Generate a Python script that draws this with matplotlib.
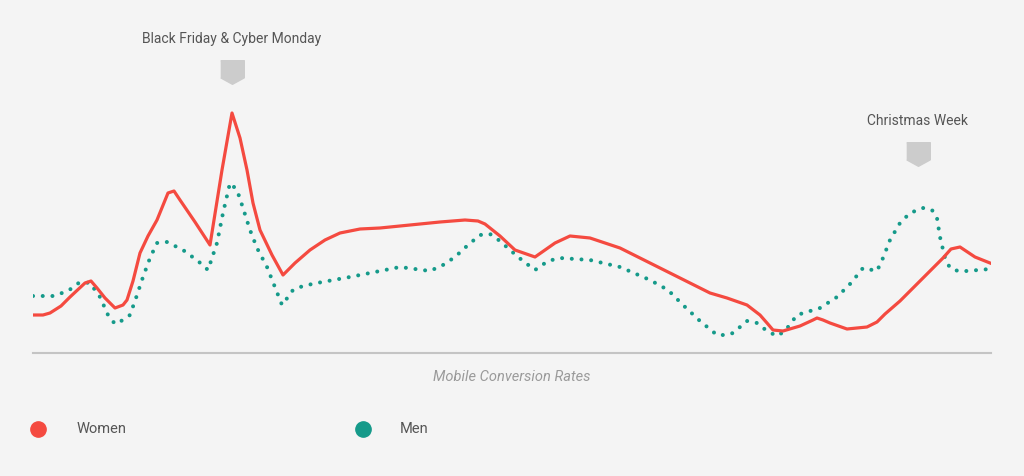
import matplotlib.pyplot as plt

plt.rcParams['font.family'] = ['Roboto', 'DejaVu Sans']

# x: position along the season (0..958), y: conversion rate
women_x = [0, 10, 17, 28, 37, 52, 58, 64, 72, 82, 90, 94, 100, 107, 115, 124, 135, 141,
           147, 162, 177, 189, 199, 207, 214, 220, 227, 239, 250, 262, 277, 292, 307,
           327, 347, 367, 407, 432, 445, 452, 467, 482, 502, 512, 522, 537, 557, 587,
           617, 647, 677, 694, 714, 727, 734, 740, 750, 767, 780, 784, 790, 797, 814,
           834, 844, 852, 867, 882, 897, 910, 918, 927, 942, 957]
women_y = [0.38, 0.38, 0.40, 0.47, 0.56, 0.70, 0.72, 0.65, 0.55, 0.45, 0.48, 0.53,
           0.72, 1.00, 1.17, 1.33, 1.60, 1.62, 1.53, 1.31, 1.08, 1.83, 2.40, 2.15, 1.83,
           1.50, 1.23, 0.98, 0.78, 0.90, 1.03, 1.13, 1.20, 1.24, 1.25, 1.27, 1.31, 1.33,
           1.32, 1.29, 1.17, 1.03, 0.96, 1.03, 1.10, 1.17, 1.15, 1.05, 0.90, 0.75, 0.60,
           0.55, 0.48, 0.38, 0.30, 0.23, 0.22, 0.27, 0.33, 0.35, 0.33, 0.30, 0.24, 0.26,
           0.31, 0.39, 0.52, 0.67, 0.82, 0.95, 1.04, 1.06, 0.96, 0.90]

men_x = [0, 20, 35, 47, 57, 67, 75, 82, 90, 97, 103, 110, 117, 124, 134, 150, 165, 175,
         184, 190, 197, 204, 210, 217, 224, 234, 249, 255, 260, 270, 284, 317, 367,
         397, 410, 422, 435, 447, 457, 467, 477, 490, 502, 515, 527, 557, 587, 617,
         635, 650, 667, 684, 694, 700, 714, 724, 734, 744, 752, 764, 787, 804, 818,
         830, 844, 850, 857, 867, 877, 890, 899, 904, 907, 912, 917, 925, 934, 957]
men_y = [0.57, 0.57, 0.62, 0.71, 0.70, 0.56, 0.38, 0.29, 0.33, 0.38, 0.55, 0.76, 0.95,
         1.10, 1.11, 1.03, 0.92, 0.83, 1.10, 1.40, 1.70, 1.63, 1.45, 1.23, 1.05, 0.86,
         0.48, 0.56, 0.63, 0.67, 0.70, 0.76, 0.86, 0.82, 0.88, 0.96, 1.08, 1.18, 1.19,
         1.12, 1.03, 0.92, 0.83, 0.92, 0.95, 0.93, 0.86, 0.73, 0.63, 0.48, 0.32, 0.18,
         0.18, 0.20, 0.32, 0.30, 0.22, 0.17, 0.22, 0.38, 0.45, 0.56, 0.70, 0.85, 0.82,
         0.95, 1.13, 1.30, 1.40, 1.45, 1.43, 1.35, 1.16, 0.95, 0.85, 0.82, 0.82, 0.84]

events = ["Black Friday & Cyber Monday", "Christmas Week"]
event_x = [199, 885]
event_y = [2.81, 1.99]

bg = '#f4f4f4'
fig = plt.figure(figsize=(10.24, 4.76), dpi=100, facecolor=bg)
ax = fig.add_axes([33 / 1024, 123 / 476, 958 / 1024, 333 / 476])
ax.set_facecolor(bg)

ax.plot(women_x, women_y, color='#f44a40', lw=2.3, solid_joinstyle='round', zorder=3)
ax.plot(men_x, men_y, color='#159a8a', lw=2.9, linestyle=(0, (0.01, 2.4)),
        dash_capstyle='round', zorder=2)

# event markers
tag = [(-1, 1), (1, 1), (1, -0.45), (0, -1), (-1, -0.45)]
for name, ex, ey in zip(events, event_x, event_y):
    ax.plot(ex, ey, marker=tag, markersize=17, color='#cccccc', mec='#cccccc',
            clip_on=False)
    ax.text(ex, ey + 0.33, name, ha='center', va='center', fontsize=10,
            color='#555555')

ax.set_xlim(0, 958)
ax.set_ylim(0, 3.33)
for s in ['top', 'right', 'left']:
    ax.spines[s].set_visible(False)
ax.spines['bottom'].set_color('#c4c4c4')
ax.spines['bottom'].set_linewidth(1.5)
ax.set_xticks([])
ax.set_yticks([])
ax.set_xlabel("Mobile Conversion Rates", fontsize=10.5, style='italic',
              color='#9a9a9a', labelpad=12)

# legend
fig.lines.append(plt.Line2D([38 / 1024], [47 / 476], marker='o', markersize=11,
                            color='#f44a40', transform=fig.transFigure))
fig.text(77 / 1024, 47 / 476, "Women", fontsize=10.5, color='#555555', va='center')
fig.lines.append(plt.Line2D([363 / 1024], [47 / 476], marker='o', markersize=11,
                            color='#159a8a', transform=fig.transFigure))
fig.text(400 / 1024, 47 / 476, "Men", fontsize=10.5, color='#555555', va='center')

fig.savefig('out.png', dpi=100, facecolor=bg)
